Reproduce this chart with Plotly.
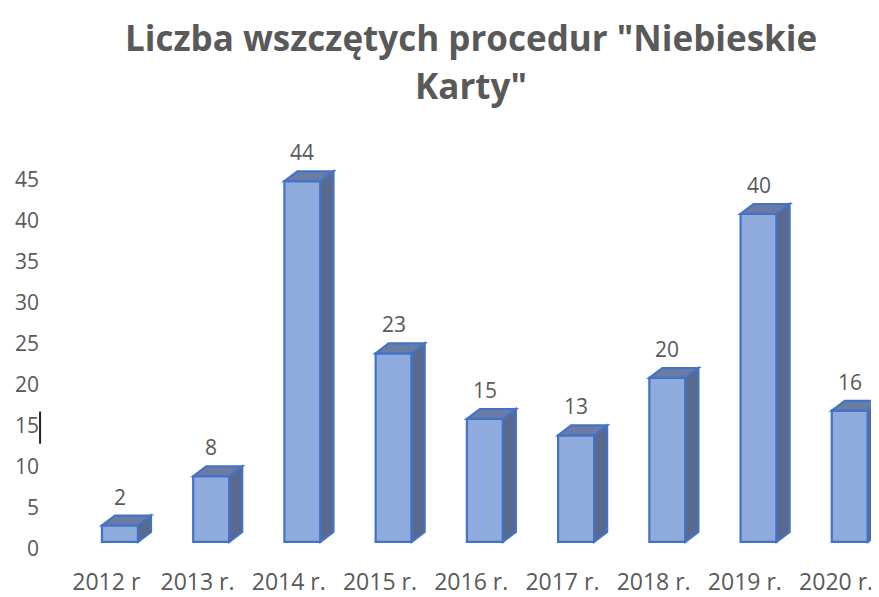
import plotly.graph_objects as go

categories = ["2012 r", "2013 r.", "2014 r.", "2015 r.", "2016 r.", "2017 r.", "2018 r.", "2019 r.", "2020 r."]
values = [2, 8, 44, 23, 15, 13, 20, 40, 16]
y_ticks = [0, 5, 10, 15, 20, 25, 30, 35, 40, 45]

TITLE_LINES = ['Liczba wszczętych procedur "Niebieskie', 'Karty"']

FRONT = "#8FAADC"
TOP = "#6A7CA6"
SIDE = "#5A6A8E"
EDGE = "#4472C4"
TXT = "#595959"

# 3D-look parameters (styles, in axis units)
shift = 0.15      # front face offset from tick
width = 0.395     # front face width
base = 0.85       # floor front edge
dx = 0.1425       # depth x
dy = 1.21         # depth y

xs = [i + shift for i in range(len(values))]

fig = go.Figure()
fig.add_trace(go.Bar(
    x=xs, y=values, base=[base] * len(values), width=width,
    marker=dict(color=FRONT, line=dict(color=EDGE, width=2.2)),
    hoverinfo="skip", showlegend=False,
))

shapes = []
annotations = []
for x, v in zip(xs, values):
    x0, x1 = x - width / 2, x + width / 2
    yb, yt = base, base + v
    top_path = f"M {x0},{yt} L {x0+dx},{yt+dy} L {x1+dx},{yt+dy} L {x1},{yt} Z"
    side_path = f"M {x1},{yb} L {x1+dx},{yb+dy} L {x1+dx},{yt+dy} L {x1},{yt} Z"
    shapes.append(dict(type="path", path=side_path, xref="x", yref="y",
                       fillcolor=SIDE, line=dict(color=EDGE, width=2.2), layer="above"))
    shapes.append(dict(type="path", path=top_path, xref="x", yref="y",
                       fillcolor=TOP, line=dict(color=EDGE, width=2.2), layer="above"))
    annotations.append(dict(x=x, y=yt + dy, xref="x", yref="y", text=str(v),
                            showarrow=False, yanchor="bottom", yshift=3,
                            font=dict(family="Open Sans", size=21, color=TXT)))

# title, two lines
for txt, yp in zip(TITLE_LINES, [1.243, 1.1286]):
    annotations.append(dict(x=0.508, y=yp, xref="paper", yref="paper", text=txt,
                            showarrow=False, xanchor="center", yanchor="middle",
                            font=dict(family="Open Sans", size=35, color=TXT, weight="bold")))

# text-cursor artefact next to "15"
shapes.append(dict(type="line", xref="paper", yref="paper",
                   x0=-0.012, x1=-0.012, y0=0.271, y1=0.348,
                   line=dict(color="#222222", width=2)))

fig.update_layout(
    width=871, height=589,
    margin=dict(l=42, r=0, t=131, b=38),
    paper_bgcolor="white", plot_bgcolor="white",
    xaxis=dict(range=[-0.617, 8.47], tickmode="array",
               tickvals=list(range(len(categories))), ticktext=categories,
               showgrid=False, zeroline=False, showline=False, ticks="",
               ticklabelstandoff=9,
               tickfont=dict(family="Open Sans", size=23, color=TXT)),
    yaxis=dict(range=[-1, 50], tickmode="array", tickvals=y_ticks,
               showgrid=False, zeroline=False, showline=False, ticks="",
               ticklabelstandoff=10,
               tickfont=dict(family="Open Sans", size=21, color=TXT)),
    shapes=shapes, annotations=annotations,
)

fig.write_html("out.html")
